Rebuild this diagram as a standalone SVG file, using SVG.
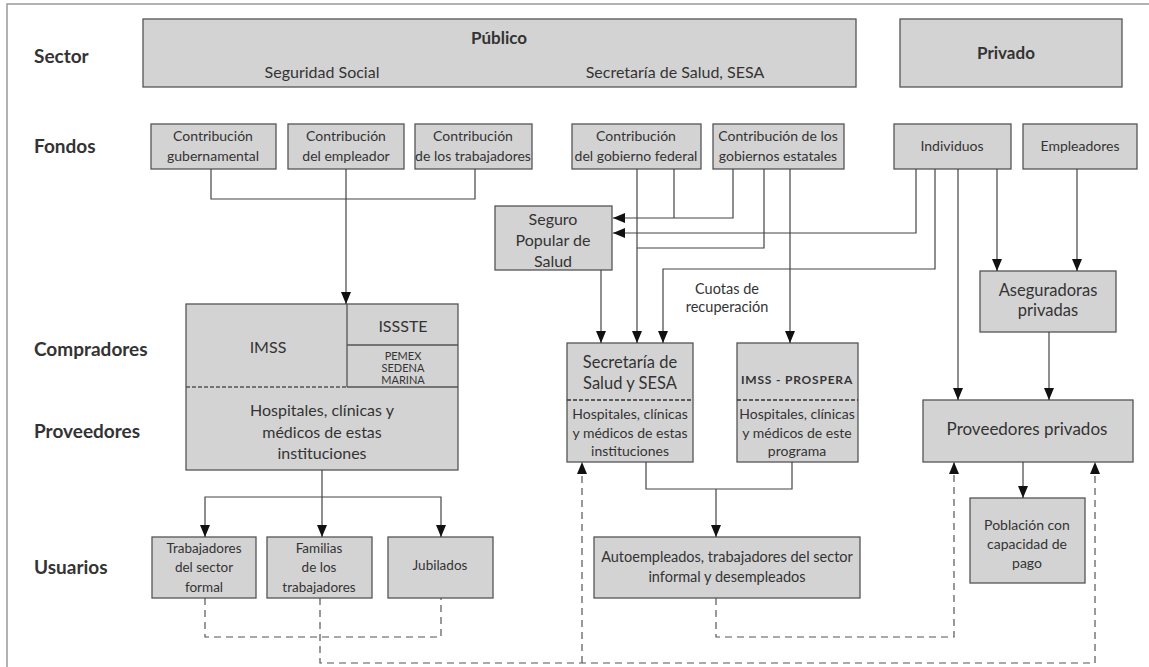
<svg xmlns="http://www.w3.org/2000/svg" width="1149" height="667" viewBox="0 0 1149 667">
<style>
.bx{fill:#d3d3d3;stroke:#555;stroke-width:1.3}
.t{font-family:Lato,"Open Sans",sans-serif;fill:#333;text-anchor:middle}
.f{font-size:14px}
.lb{font-family:Lato,"Open Sans",sans-serif;font-weight:bold;fill:#333;font-size:19px}
.c{fill:none;stroke:#444;stroke-width:1.2}
.d{fill:none;stroke:#555;stroke-width:1.2;stroke-dasharray:7 5}
</style>
<defs>
<marker id="a" markerUnits="userSpaceOnUse" markerWidth="12" markerHeight="10" refX="12" refY="5" orient="auto">
<path d="M0,0 L12,5 L0,10 z" fill="#111"/>
</marker>
</defs>
<rect width="1149" height="667" fill="#fff"/>
<path d="M7,667 V4 H1149" fill="none" stroke="#999" stroke-width="1.5"/>

<g id="labels">
<text class="lb" x="34" y="63">Sector</text>
<text class="lb" x="34" y="153">Fondos</text>
<text class="lb" x="34" y="356">Compradores</text>
<text class="lb" x="34" y="438">Proveedores</text>
<text class="lb" x="34" y="574">Usuarios</text>
</g>

<g id="publico">
<rect class="bx" x="143" y="19" width="713" height="68"/>
<text class="t" x="499" y="44" font-size="17" font-weight="bold">Público</text>
<text class="t" x="322" y="78" font-size="16">Seguridad Social</text>
<text class="t" x="675" y="78" font-size="16">Secretaría de Salud, SESA</text>
</g>
<g id="privado">
<rect class="bx" x="900" y="19" width="222" height="68"/>
<text class="t" x="1006" y="59" font-size="17" font-weight="bold">Privado</text>
</g>

<g id="f-gub"><rect class="bx" x="151" y="124" width="125" height="45"/>
<text class="t f" x="213" y="141">Contribución</text><text class="t f" x="213" y="161">gubernamental</text></g>
<g id="f-emp"><rect class="bx" x="288" y="124" width="116" height="45"/>
<text class="t f" x="346" y="141">Contribución</text><text class="t f" x="346" y="161">del empleador</text></g>
<g id="f-trab"><rect class="bx" x="415" y="124" width="117" height="45"/>
<text class="t f" x="473" y="141">Contribución</text><text class="t f" x="473" y="161">de los trabajadores</text></g>
<g id="f-fed"><rect class="bx" x="572" y="124" width="129" height="45"/>
<text class="t f" x="636" y="141">Contribución</text><text class="t f" x="636" y="161">del gobierno federal</text></g>
<g id="f-est"><rect class="bx" x="713" y="124" width="131" height="45"/>
<text class="t f" x="778" y="141">Contribución de los</text><text class="t f" x="778" y="161">gobiernos estatales</text></g>
<g id="f-ind"><rect class="bx" x="894" y="124" width="117" height="45"/>
<text class="t f" x="952" y="151">Individuos</text></g>
<g id="f-empl"><rect class="bx" x="1023" y="124" width="114" height="45"/>
<text class="t f" x="1080" y="151">Empleadores</text></g>

<g id="seguro"><rect class="bx" x="495" y="206" width="117" height="64"/>
<text class="t" x="553" y="225" font-size="16">Seguro</text>
<text class="t" x="553" y="246" font-size="16">Popular de</text>
<text class="t" x="553" y="267" font-size="16">Salud</text></g>

<g id="imss">
<rect class="bx" x="186" y="304" width="272" height="166"/>
<path d="M347,304 V387 M347,345 H458 M347,387 H458" stroke="#555" stroke-width="1.3" fill="none"/>
<path d="M186,387 H347" stroke="#555" stroke-width="1.3" stroke-dasharray="4 2" fill="none"/>
<text class="t" x="268" y="353" font-size="16">IMSS</text>
<text class="t" x="403" y="332" font-size="16">ISSSTE</text>
<text class="t" x="403" y="360" font-size="11">PEMEX</text>
<text class="t" x="403" y="372" font-size="11">SEDENA</text>
<text class="t" x="403" y="384" font-size="11">MARINA</text>
<text class="t" x="322" y="416" font-size="16">Hospitales, clínicas y</text>
<text class="t" x="322" y="438" font-size="16">médicos de estas</text>
<text class="t" x="322" y="459" font-size="16">instituciones</text>
</g>

<g id="ssa">
<rect class="bx" x="567" y="343" width="126" height="119"/>
<path d="M567,400 H693" stroke="#333" stroke-width="1.3" stroke-dasharray="4 2"/>
<text class="t" x="630" y="368" font-size="16.5">Secretaría de</text>
<text class="t" x="630" y="389" font-size="16.5">Salud y SESA</text>
<text class="t" x="630" y="419" font-size="14">Hospitales, clínicas</text>
<text class="t" x="630" y="438" font-size="14">y médicos de estas</text>
<text class="t" x="630" y="456" font-size="14">instituciones</text>
</g>

<g id="prospera">
<rect class="bx" x="737" y="343" width="121" height="119"/>
<path d="M737,400 H858" stroke="#333" stroke-width="1.3" stroke-dasharray="4 2"/>
<text class="t" x="797" y="384" font-size="12" font-weight="bold" letter-spacing="0.8">IMSS - PROSPERA</text>
<text class="t" x="797" y="419" font-size="14">Hospitales, clínicas</text>
<text class="t" x="797" y="438" font-size="14">y médicos de este</text>
<text class="t" x="797" y="456" font-size="14">programa</text>
</g>

<g id="cuotas"><text class="t" x="727" y="294" font-size="14.5">Cuotas de</text>
<text class="t" x="727" y="312" font-size="14.5">recuperación</text></g>

<g id="aseg"><rect class="bx" x="980" y="271" width="136" height="61"/>
<text class="t" x="1048" y="296" font-size="16.5">Aseguradoras</text>
<text class="t" x="1048" y="316" font-size="16.5">privadas</text></g>

<g id="provpriv"><rect class="bx" x="923" y="400" width="210" height="62"/>
<text class="t" x="1027" y="435" font-size="17">Proveedores privados</text></g>

<g id="poblacion"><rect class="bx" x="970" y="498" width="115" height="85"/>
<text class="t" x="1027" y="530" font-size="14">Población con</text>
<text class="t" x="1027" y="549" font-size="14">capacidad de</text>
<text class="t" x="1027" y="568" font-size="14">pago</text></g>

<g id="autoemp"><rect class="bx" x="594" y="537" width="266" height="61"/>
<text class="t" x="727" y="562" font-size="14.5">Autoempleados, trabajadores del sector</text>
<text class="t" x="727" y="582" font-size="14.5">informal y desempleados</text></g>

<g id="u-trab"><rect class="bx" x="152" y="537" width="104" height="61"/>
<text class="t" x="204" y="553" font-size="13.5">Trabajadores</text>
<text class="t" x="204" y="572" font-size="13.5">del sector</text>
<text class="t" x="204" y="592" font-size="13.5">formal</text></g>
<g id="u-fam"><rect class="bx" x="267" y="537" width="105" height="61"/>
<text class="t" x="319" y="553" font-size="13.5">Familias</text>
<text class="t" x="319" y="572" font-size="13.5">de los</text>
<text class="t" x="319" y="592" font-size="13.5">trabajadores</text></g>
<g id="u-jub"><rect class="bx" x="388" y="537" width="105" height="61"/>
<text class="t" x="440" y="570" font-size="13.5">Jubilados</text></g>

<g id="connectors">
<path class="c" d="M211,169 V199 H475 V169 M346,169 V199"/>
<path class="c" d="M346,199 V304" marker-end="url(#a)"/>
<path class="c" d="M674,169 V218"/>
<path class="c" d="M733,169 V218 H613" marker-end="url(#a)"/>
<path class="c" d="M916,169 V233 H613" marker-end="url(#a)"/>
<path class="c" d="M764,169 V248 H637"/>
<path class="c" d="M637,169 V343" marker-end="url(#a)"/>
<path class="c" d="M790,169 V343" marker-end="url(#a)"/>
<path class="c" d="M935,169 V269 H663 V343" marker-end="url(#a)"/>
<path class="c" d="M958,169 V400" marker-end="url(#a)"/>
<path class="c" d="M997,169 V271" marker-end="url(#a)"/>
<path class="c" d="M1077,169 V271" marker-end="url(#a)"/>
<path class="c" d="M601,270 V343" marker-end="url(#a)"/>
<path class="c" d="M1049,332 V400" marker-end="url(#a)"/>
<path class="c" d="M322,470 V537" marker-end="url(#a)"/>
<path class="c" d="M322,497 H205 V537" marker-end="url(#a)"/>
<path class="c" d="M322,497 H441 V537" marker-end="url(#a)"/>
<path class="c" d="M646,462 V489 H792 V462"/>
<path class="c" d="M716,489 V537" marker-end="url(#a)"/>
<path class="c" d="M1023,462 V498" marker-end="url(#a)"/>
<path class="d" d="M205,598 V637 H441 V598"/>
<path class="d" d="M320,598 V663 H1095 V462" marker-end="url(#a)"/>
<path class="d" d="M582,663 V462" marker-end="url(#a)"/>
<path class="d" d="M716,598 V637 H954 V462" marker-end="url(#a)"/>
</g>
</svg>
